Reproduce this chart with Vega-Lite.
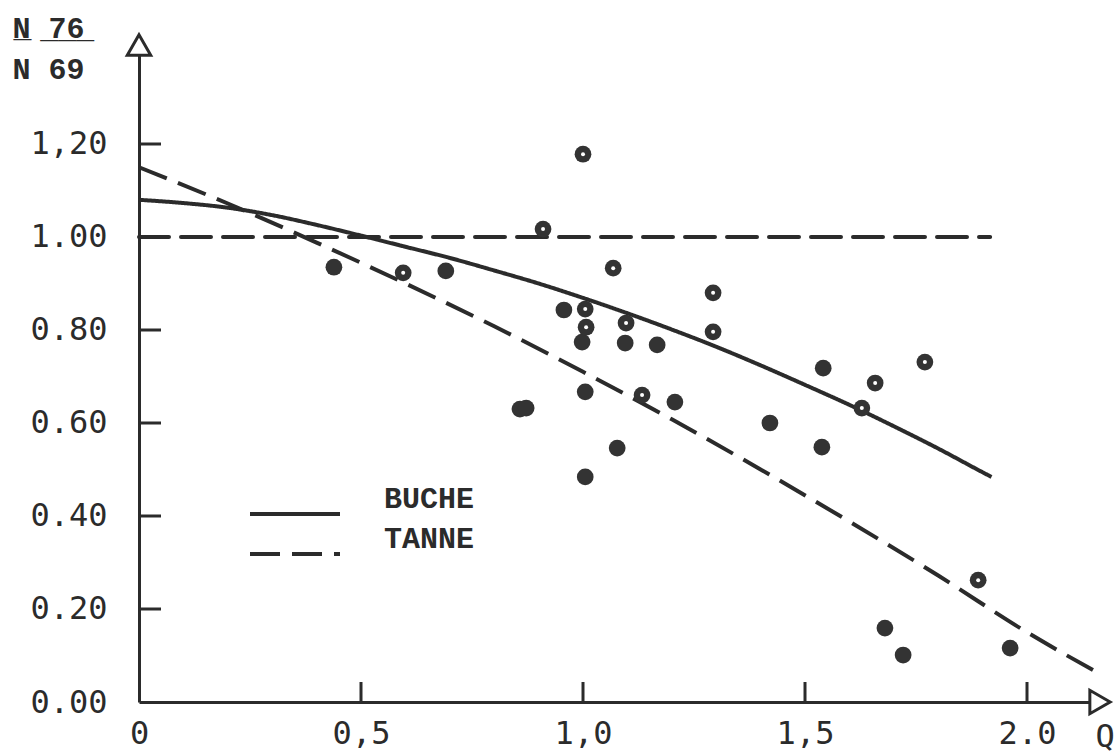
{
  "$schema": "https://vega.github.io/schema/vega-lite/v6.json",
  "width": 961,
  "height": 657,
  "autosize": {"type": "none"},
  "padding": {"left": 139, "top": 45, "right": 15, "bottom": 51},
  "background": "white",
  "config": {
    "view": {"stroke": null},
    "axis": {
      "grid": false,
      "domainColor": "#2b2b2b",
      "domainWidth": 3,
      "labelColor": "#2b2b2b",
      "labelFont": "DejaVu Sans Mono",
      "labelFontSize": 32,
      "titleColor": "#2b2b2b"
    },
    "legend": {"padding": 0}
  },
  "datasets": {
    "ref": [{"x": 0, "y": 1.0}, {"x": 1.917, "y": 1.0}],
    "xticks": [{"x": 0.5, "y": 0}, {"x": 1.0, "y": 0}, {"x": 1.5, "y": 0}, {"x": 2.0, "y": 0}],
    "yticks": [{"x": 0, "y": 0.2}, {"x": 0, "y": 0.4}, {"x": 0, "y": 0.6}, {"x": 0, "y": 0.8}, {"x": 0, "y": 1.0}, {"x": 0, "y": 1.2}],
    "curves": [
      {"series": "BUCHE", "x": 0, "y": 1.080},
      {"series": "BUCHE", "x": 0.1, "y": 1.073},
      {"series": "BUCHE", "x": 0.2, "y": 1.063},
      {"series": "BUCHE", "x": 0.3, "y": 1.047},
      {"series": "BUCHE", "x": 0.4, "y": 1.026},
      {"series": "BUCHE", "x": 0.5, "y": 1.003},
      {"series": "BUCHE", "x": 0.6, "y": 0.979},
      {"series": "BUCHE", "x": 0.7, "y": 0.955},
      {"series": "BUCHE", "x": 0.8, "y": 0.928},
      {"series": "BUCHE", "x": 0.9, "y": 0.900},
      {"series": "BUCHE", "x": 1.0, "y": 0.869},
      {"series": "BUCHE", "x": 1.1, "y": 0.836},
      {"series": "BUCHE", "x": 1.2, "y": 0.801},
      {"series": "BUCHE", "x": 1.3, "y": 0.764},
      {"series": "BUCHE", "x": 1.4, "y": 0.724},
      {"series": "BUCHE", "x": 1.5, "y": 0.682},
      {"series": "BUCHE", "x": 1.6, "y": 0.639},
      {"series": "BUCHE", "x": 1.7, "y": 0.593},
      {"series": "BUCHE", "x": 1.8, "y": 0.545},
      {"series": "BUCHE", "x": 1.9, "y": 0.494},
      {"series": "BUCHE", "x": 1.92, "y": 0.484},
      {"series": "TANNE", "x": 0, "y": 1.150},
      {"series": "TANNE", "x": 0.2, "y": 1.072},
      {"series": "TANNE", "x": 0.4, "y": 0.988},
      {"series": "TANNE", "x": 0.6, "y": 0.900},
      {"series": "TANNE", "x": 0.8, "y": 0.808},
      {"series": "TANNE", "x": 1.0, "y": 0.710},
      {"series": "TANNE", "x": 1.2, "y": 0.608},
      {"series": "TANNE", "x": 1.4, "y": 0.500},
      {"series": "TANNE", "x": 1.6, "y": 0.388},
      {"series": "TANNE", "x": 1.8, "y": 0.272},
      {"series": "TANNE", "x": 2.0, "y": 0.150},
      {"series": "TANNE", "x": 2.165, "y": 0.060}
    ],
    "points": [
      {"type": "filled", "x": 0.439, "y": 0.935},
      {"type": "filled", "x": 0.691, "y": 0.927},
      {"type": "filled", "x": 0.957, "y": 0.843},
      {"type": "filled", "x": 0.998, "y": 0.774},
      {"type": "filled", "x": 1.095, "y": 0.772},
      {"type": "filled", "x": 1.167, "y": 0.768},
      {"type": "filled", "x": 0.858, "y": 0.630},
      {"type": "filled", "x": 0.872, "y": 0.632},
      {"type": "filled", "x": 1.005, "y": 0.667},
      {"type": "filled", "x": 1.077, "y": 0.546},
      {"type": "filled", "x": 1.005, "y": 0.484},
      {"type": "filled", "x": 1.207, "y": 0.645},
      {"type": "filled", "x": 1.421, "y": 0.600},
      {"type": "filled", "x": 1.541, "y": 0.718},
      {"type": "filled", "x": 1.538, "y": 0.548},
      {"type": "filled", "x": 1.680, "y": 0.159},
      {"type": "filled", "x": 1.721, "y": 0.101},
      {"type": "filled", "x": 1.962, "y": 0.116},
      {"type": "ring", "x": 0.595, "y": 0.923},
      {"type": "ring", "x": 0.910, "y": 1.017},
      {"type": "ring", "x": 1.000, "y": 1.178},
      {"type": "ring", "x": 1.068, "y": 0.933},
      {"type": "ring", "x": 1.005, "y": 0.845},
      {"type": "ring", "x": 1.007, "y": 0.806},
      {"type": "ring", "x": 1.097, "y": 0.815},
      {"type": "ring", "x": 1.293, "y": 0.880},
      {"type": "ring", "x": 1.293, "y": 0.796},
      {"type": "ring", "x": 1.133, "y": 0.660},
      {"type": "ring", "x": 1.658, "y": 0.686},
      {"type": "ring", "x": 1.628, "y": 0.632},
      {"type": "ring", "x": 1.770, "y": 0.731},
      {"type": "ring", "x": 1.890, "y": 0.262}
    ],
    "arrows": [
      {"dir": "up", "x": 0, "y": 1.4129},
      {"dir": "right", "x": 2.1644, "y": 0}
    ]
  },
  "encoding": {
    "x": {
      "field": "x",
      "type": "quantitative",
      "scale": {"domain": [0, 2.1644], "nice": false, "zero": false},
      "axis": {
        "values": [0, 0.5, 1, 1.5, 2],
        "labelExpr": "datum.value == 0 ? '0' : datum.value == 2 ? '2.0' : replace(format(datum.value, '.1f'), '.', ',')",
        "ticks": false,
        "labelPadding": 16,
        "labelFlush": false,
        "title": "Q",
        "titleFont": "DejaVu Sans Mono",
        "titleFontSize": 32,
        "titleFontWeight": "normal",
        "titleAlign": "left",
        "titleBaseline": "alphabetic",
        "titleAnchor": "start",
        "titleX": 956,
        "titleY": 44
      }
    },
    "y": {
      "field": "y",
      "type": "quantitative",
      "scale": {"domain": [0, 1.4129], "nice": false, "zero": false},
      "axis": {
        "values": [0, 0.2, 0.4, 0.6, 0.8, 1.0, 1.2],
        "labelExpr": "datum.value > 1.1 ? '1,20' : format(datum.value, '.2f')",
        "ticks": false,
        "labelPadding": 32,
        "labelFlush": false,
        "title": ["N̲ ̲7̲6̲", "N 69"],
        "titleFont": "Liberation Mono",
        "titleFontSize": 30,
        "titleFontWeight": "bold",
        "titleAngle": 0,
        "titleAlign": "left",
        "titleBaseline": "alphabetic",
        "titleLineHeight": 41,
        "titleX": -127,
        "titleY": -8
      }
    }
  },
  "layer": [
    {
      "data": {"name": "ref"},
      "mark": {"type": "line", "color": "#2b2b2b", "strokeWidth": 4, "strokeDash": [30, 12], "strokeCap": "round"},
      "encoding": {}
    },
    {
      "data": {"name": "yticks"},
      "mark": {"type": "point", "shape": "M0,0L2,0", "filled": false, "stroke": "#2b2b2b", "strokeWidth": 3, "size": 484, "opacity": 1}
    },
    {
      "data": {"name": "xticks"},
      "mark": {"type": "point", "shape": "M0,0L0,-2", "filled": false, "stroke": "#2b2b2b", "strokeWidth": 3, "size": 400, "opacity": 1}
    },
    {
      "data": {"name": "curves"},
      "mark": {"type": "line", "color": "#2b2b2b", "strokeWidth": 4, "interpolate": "monotone"},
      "encoding": {
        "strokeDash": {
          "field": "series",
          "type": "nominal",
          "scale": {"domain": ["BUCHE", "TANNE"], "range": [[1, 0], [30, 12]]},
          "legend": {
            "orient": "none",
            "legendX": 139,
            "legendY": 452,
            "title": null,
            "symbolType": "M-3,0L3,0",
            "symbolSize": 900,
            "symbolStrokeWidth": 4,
            "symbolStrokeColor": "#2b2b2b",
            "symbolFillColor": "transparent",
            "labelFont": "Liberation Mono",
            "labelFontSize": 30,
            "labelFontWeight": "bold",
            "labelColor": "#2b2b2b",
            "labelOffset": 72,
            "labelBaseline": "bottom",
            "rowPadding": 2
          }
        }
      }
    },
    {
      "data": {"name": "points"},
      "mark": {"type": "point", "shape": "circle", "filled": true, "color": "#333333", "size": 280, "opacity": 1}
    },
    {
      "data": {"name": "points"},
      "transform": [{"filter": "datum.type == 'ring'"}],
      "mark": {"type": "point", "shape": "circle", "filled": true, "color": "white", "size": 16, "opacity": 1}
    },
    {
      "data": {"name": "arrows"},
      "mark": {"type": "point", "filled": true, "fill": "white", "stroke": "#2b2b2b", "strokeWidth": 3, "size": 550, "opacity": 1},
      "encoding": {
        "shape": {
          "field": "dir",
          "type": "nominal",
          "scale": {"domain": ["up", "right"], "range": ["triangle-up", "triangle-right"]},
          "legend": null
        }
      }
    }
  ]
}
